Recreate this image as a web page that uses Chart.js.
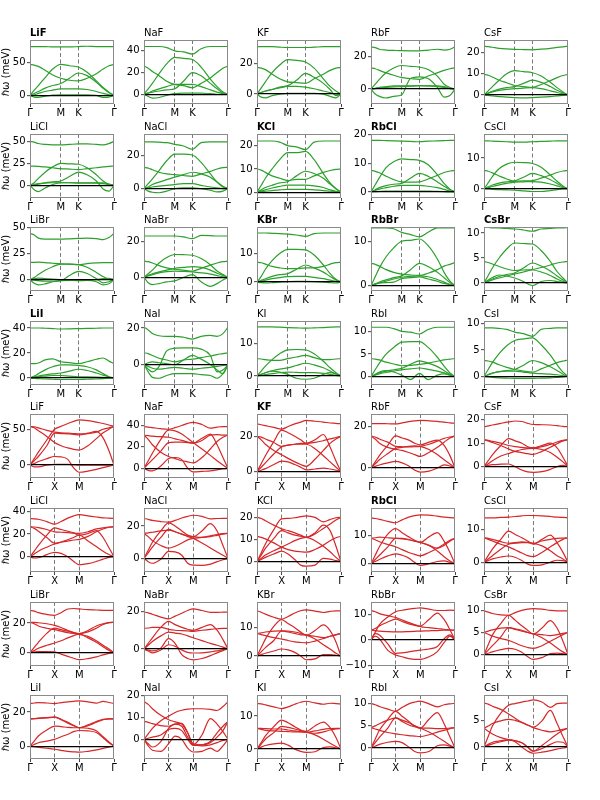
<!DOCTYPE html>
<html><head><meta charset="utf-8">
<script src="https://cdn.jsdelivr.net/npm/chart.js@4.4.0/dist/chart.umd.min.js"></script>
<style>
html,body{margin:0;padding:0;background:#fff;}
#wrap{position:relative;width:600px;height:800px;overflow:hidden;background:#fff;}
#wrap canvas{position:absolute;}
</style></head><body><div id="wrap"></div>
<script>
// k-path coordinates (fraction of total path length)
const hexPath = [0, 0.05, 0.1, 0.18, 0.27, 0.366, 0.47, 0.577, 0.68, 0.79, 0.87, 0.94, 1];
const cubPath = [0, 0.05, 0.1, 0.2, 0.293, 0.37, 0.45, 0.52, 0.586, 0.69, 0.79, 0.87, 0.94, 1];
const hexTickPos = [0, 0.366, 0.5774, 1];
const hexTickLabels = ['Γ', 'M', 'K', 'Γ'];
const cubTickPos = [0, 0.2929, 0.5858, 1];
const cubTickLabels = ['Γ', 'X', 'M', 'Γ'];
const cations = ['Li', 'Na', 'K', 'Rb', 'Cs'];
const anions = ['F', 'Cl', 'Br', 'I'];
const hexBold = ['LiF', 'KCl', 'RbCl', 'KBr', 'RbBr', 'CsBr', 'LiI'];
const cubBold = ['KF', 'RbCl'];

const hexYMin = [[-13,-9,-6.5,-9.2,-4.2],[-14.3,-5.7,-2.5,-2.1,-2.9],[-10.9,-7.6,-3.1,-1.2,-1.6],[-5.6,-11.2,-2.75,-1.9,-1.65]];
const hexYMax = [[84,50,35.4,30.2,25.9],[58.3,33.3,25,20.2,17.7],[50.7,28,19.3,13.2,11.2],[45.6,23.9,16.8,12.4,10.5]];
const hexYTicks = [
  [[0,50],[0,20,40],[0,20],[0,20],[0,10,20]],
  [[0,25,50],[0,20],[0,10,20],[0,10,20],[0,10]],
  [[0,25,50],[0,20],[0,10],[0,10],[0,5,10]],
  [[0,20,40],[0,20],[0,10],[0,5,10],[0,5,10]]];
const cubYMin = [[-18,-9.2,-3.6,-4.8,-4.9],[-13.3,-8.4,-4.6,-2.9,-3],[-9,-9,-3.5,-10.1,-2.6],[-7.5,-9,-3,-2.5,-2.3]];
const cubYMax = [[71.3,50.8,32.6,26.1,22.5],[42.9,31.2,24.2,19.7,16.6],[34.2,25,19.1,14.8,11.9],[30,20.3,16.4,12,9.95]];
const cubYTicks = [
  [[0,50],[0,20,40],[0,20],[0,20],[0,10,20]],
  [[0,20,40],[0,20],[0,10,20],[0,10],[0,10]],
  [[0,20],[0,20],[0,10],[-10,0,10],[0,5,10]],
  [[0,20],[0,10,20],[0,10],[0,5,10],[0,5]]];

// ---- hexagonal path Γ-M-K-Γ, branch energies (meV) ----
const hex_LiF = [
 [74,74,74,74,73.5,73.5,73.5,74,74.5,74,74,74,74],
 [47,46,44,38,31,26,23,22,26,33,40,45,47],
 [0,8,15,27,40,47,45,43,35,22,12,5,0],
 [0,3,6,11,15,18,26,34,30,20,11,4,0],
 [0,1,3,6,8,10,10,10,9,6,3,1,0],
 [0,-2.5,-3,-1,0.5,1,1,1,1,0,-3,-2.5,0]];
const hex_NaF = [
 [44,44,44,44,43,40,39,37,42,44,44,44,44],
 [0,5,10,19,28,34,33,32,25,14,7,2,0],
 [26,24,21,17,12,9,8,6,10,15,20,24,26],
 [0,1,2,3,4,5,12,20,17,10,5,1,0],
 [0,1,3,5,7,9,9,9,7,4,2,0.5,0],
 [0,-2,-3.5,-3,-1,0.5,1,1,1,0.5,0,0,0]];
const hex_KF = [
 [31,31,31,31,30.7,30.5,30.5,30.5,30.7,31,31,31,31],
 [0,4,8,14,19,22.5,22,21,17,10,5,2,0],
 [17.5,17,16,13,10,8,7.5,7,10,13,15.5,17,17.5],
 [0,1,2,3,4.5,5.5,9,13.5,11,7,3,-1,0],
 [0,1,2,3,4,5,5,4.5,3.5,2,1,0,0],
 [0,-2,-2.5,-1,0,0.5,0.5,0.5,0.5,0,-1.5,-2.5,0]];
const hex_RbF = [
 [26,25.5,24.5,24,23.8,23.6,23.5,23.5,24,24.5,24,24.5,26],
 [0,3,6,10,13,14.5,14,13.5,12,8,3,1,0],
 [13,12.5,11.5,10,8.5,7,6.5,6,8,10,11.5,12.5,13],
 [0,-3,-4.5,-5.5,-4.5,-3.5,6.5,7.5,6.5,1,-5,-4,0],
 [0,0.5,1,1.5,2,2,2,2,2,2,1.5,0.5,0],
 [0,0.3,0.6,1,1.3,1.5,1.8,2.2,2,1.5,1,0.3,0]];
const hex_CsF = [
 [23,22.8,22.5,22,21.7,21.5,21.4,21.3,21.6,22,22.4,22.7,23],
 [0,2,4,7,10,11.5,11,10.5,9,6,3.5,1.5,0],
 [9.7,9.3,8.5,7,5.8,4.5,4,3.6,5,6.8,8.2,9.2,9.7],
 [0,1,1.8,2.8,3.5,4,5.5,7,6,4,2.3,1,0],
 [0,0.8,1.5,2.2,2.7,3,3.3,3.5,3,2,1.2,0.5,0],
 [0,-0.2,-0.4,-0.7,-1,-1.2,-1.3,-1.2,-1,-0.7,-0.4,-0.2,0]];
const hex_LiCl = [
 [50,49,47.5,46.5,46,46,46.5,47,47,46.5,46,47.5,50],
 [22,21.8,21.5,21,20,19,18.5,18,19,20,21,21.5,22],
 [0,3,8,15,21,25,24.5,24,20,12,5,1,0],
 [0,0.5,1.5,3,4,5,10,15,12,5,-4,-6.5,0],
 [0,-5,-7,-3,1,3,3,3,3,2.5,2,1,0],
 [0,1,2,2.5,3,3,3,2.5,2.5,3,3,1.5,0]];
const hex_NaCl = [
 [28.5,28.5,28.5,28.3,28,27,26,24,28,28.5,28.5,28.5,28.5],
 [0,3,6,11,17,21,21,20.5,16,9,4,1,0],
 [13,12.5,11.5,10,9,8.5,8,7.5,9,10.5,12,12.8,13],
 [0,1,2.5,4,5.5,7,8.5,10,9,7,4,1.5,0],
 [0,0.5,1,1.5,2,2.5,3,3,2,1,0.5,0,0],
 [0,-1.5,-2.2,-2.5,-1.5,0,0.5,0.5,0,-1,-2,-1.5,0]];
const hex_KCl = [
 [22,22,22,22,21.5,20,19.5,18.3,21.5,22,22,22,22],
 [0,3,6,10,14,17,17,17.5,14,8,4,1.5,0],
 [10,9.5,8.5,7,6,5,5.5,5.5,7,8.5,9.3,9.8,10],
 [0,1,2,3,4,4.5,7,9,8,6,3.5,1.5,0],
 [0,0.5,1,1.8,2.5,3,3,3,2.7,2,1,0.4,0],
 [0,0.2,0.4,0.7,1,1.2,1.2,1.2,1,0.7,0.4,0.2,0]];
const hex_RbCl = [
 [18,18,18,17.9,17.8,17.7,17.6,17.5,17.7,17.8,17.9,18,18],
 [0,2.5,5,8.5,10.5,11.5,11.3,11,9.5,6,3,1,0],
 [7.5,7.2,6.7,5.5,4.3,3.5,3.4,3.5,4.5,5.8,6.8,7.3,7.5],
 [0,0.8,1.5,2.2,2.7,3,4.8,6.5,5.5,3.5,2,0.8,0],
 [0,0.5,1,1.5,2,2.3,2.3,2.3,2,1.5,0.9,0.3,0],
 [0,0.1,0.2,0.3,0.3,0.3,0.3,0.3,0.3,0.2,0.1,0,0]];
const hex_CsCl = [
 [15.5,15.5,15.4,15.3,15.2,15.1,15.1,15.2,15.3,15.4,15.5,15.5,15.5],
 [0,2,4,6.5,8,8.6,8.5,8.2,7,4.5,2.5,1,0],
 [6,5.7,5.2,4.2,3.2,2.5,2.6,2.7,3.5,4.5,5.3,5.8,6],
 [0,0.7,1.3,1.9,2.3,2.6,3.8,5,4.3,3,1.8,0.7,0],
 [0,0.4,0.8,1.3,1.8,2.2,2.3,2.4,2.2,1.6,1,0.4,0],
 [0,0,-0.1,-0.2,-0.3,-0.4,-0.6,-0.8,-0.8,-0.5,-0.2,0,0]];
const hex_LiBr = [
 [44.5,43,40,39,39,39,39.3,39.7,40,39.5,38.5,40.5,44.5],
 [16.5,16.7,16.8,16.5,15.8,15.2,15,14.5,15.5,16.2,16.5,16.5,16.5],
 [0,2,5,9,12.5,15,15,14.5,12,7,3,0.5,0],
 [0,-0.5,-1,-1.5,-1.5,-1,4,8,6,1,-3,-2,0],
 [0,-3.5,-5,-4,-2,-1,-0.8,-0.8,-0.8,-2,-5,-4,0],
 [0,1,1.5,1,0.5,0,-0.5,-1,-0.8,0,1,1.2,0]];
const hex_NaBr = [
 [23,23,23,23,23,23,22.5,21.5,23.3,23.2,23,23,23],
 [0,2,4,8,11,12.7,12.6,12.3,10.5,7,3.5,1.5,0],
 [9,8.7,8,6.5,5.3,4.5,4,3.5,5,6.8,8,8.7,9],
 [0,1,2,3,4,5,5.5,6,5.5,4,2.3,1,0],
 [0,0.8,1.5,2.5,3.2,3.5,3.3,3,2.5,1.8,1,0.3,0],
 [0,-3,-4,-3.5,-2.5,-2,0,1.5,-2.5,-5,-3.5,-1.5,0]];
const hex_KBr = [
 [17.2,17.2,17.2,17.1,17,16.8,16.5,16,17,17.2,17.2,17.2,17.2],
 [0,2,4.5,7.5,10,11.5,11.5,11.3,9.5,6,3,1,0],
 [7,6.8,6.3,5.5,5,4.7,4.7,5,5,5.5,6.3,6.8,7],
 [0,0.6,1.2,2,2.6,3,4.5,6,5,3.5,2,0.8,0],
 [0,0.3,0.7,1.2,1.6,1.9,2,2,1.7,1.2,0.7,0.3,0],
 [0,-0.2,-0.3,-0.2,0,0.2,0.3,0.3,0.2,0,-0.2,-0.3,0]];
const hex_RbBr = [
 [13,13,13,13,12.8,12,11.5,11,12,13,13,13,13],
 [0,2,4,6.5,8.5,10,10.2,10.5,9,6,3,1,0],
 [5,4.8,4.4,3.6,3,2.6,2.4,2.3,2.8,3.6,4.4,4.8,5.2],
 [0,0.4,0.8,1.3,1.8,2.2,3.6,5,4.3,3,1.8,0.7,0],
 [0,0.3,0.6,1,1.5,1.9,2.1,2.2,2,1.4,0.8,0.3,0],
 [0,0.4,0.6,0.7,0.8,1.6,1.8,2,1.5,1,0.5,0.2,0]];
const hex_CsBr = [
 [11.1,11.1,11,11,10.9,10.8,10.6,10.35,10.8,10.9,11,11,11.1],
 [0,1.5,3,5,6.8,8,7.9,7.8,6.5,4.3,2.3,1,0],
 [4.3,4.1,3.8,3.3,2.8,2.5,2.6,2.7,3.1,3.6,4,4.2,4.3],
 [0,0.4,0.8,1.3,1.7,2,3,4,3.4,2.4,1.4,0.6,0],
 [0,0.6,1.1,1.6,1.4,1,0.3,-0.5,0.3,0.5,0.3,0.1,0],
 [0,0.3,0.6,1,1.4,1.8,2.2,2.6,2.2,1.5,0.8,0.3,0]];
const hex_LiI = [
 [40,40,40,39.8,39.5,39.2,39.3,39.5,39.7,39.8,40,40,40],
 [11.5,11.5,12,14.5,15.3,13,12.3,11.5,13,15,16,13.5,11.5],
 [0,1.5,3.5,6.5,9,10.5,10.5,10,9,6.5,3.5,1,0],
 [0,0.7,1.5,2.5,3.3,4,5.5,7,6,4,2.3,0.8,0],
 [0,-0.3,-0.5,-0.8,-1,-1.2,-1.2,-1.2,-1,-0.8,-0.5,-0.2,0],
 [0,0.5,1,1.5,2,2,1.5,1,1,0.8,0.5,0.2,0]];
const hex_NaI = [
 [20.5,19,17,15.8,15.5,15.5,15,14,15.5,16,15.5,17,20.5],
 [6.5,6,5,3.5,2.5,1.5,2.5,3,3.8,4.7,5.5,6,6.5],
 [0,-2.5,-4,-1,7.5,9,9.2,9.2,8.5,5,-4,-3,0],
 [0,1,1.5,1,0.5,0,2.5,5,3,0,-3,-5,0],
 [0,-1,-2,-2.5,-2,-1.5,-2,-2.5,-2,-1.5,-1,-0.5,0],
 [0,-4,-7,-7.5,-6,-5,-5,-5,-5.5,-6,-7.5,-5,0]];
const hex_KI = [
 [15,15,15,15,14.9,14.8,14.7,14.6,14.7,14.8,14.9,15,15],
 [0,1.5,3,5,6.8,8,8.1,8,6.8,4.5,2.5,1,0],
 [5.3,5.2,5,4.8,4.8,5.3,5.8,6.3,5.6,5,5,5.2,5.3],
 [0,0.5,1,1.6,2.1,2.5,3.2,3.9,3.4,2.5,1.5,0.6,0],
 [0,0.5,1,1.5,1.2,0.5,-0.7,-1,-0.7,0.5,1,0.6,0],
 [0,0.2,0.4,0.7,1,1.2,1.1,1,1,0.8,0.5,0.2,0]];
const hex_RbI = [
 [11,11,11,11,10.7,10.1,9.9,9.5,10.5,11,11,11,11],
 [0,1.5,3,5,6.5,7.7,7.8,7.8,6.5,4.3,2.3,0.8,0],
 [4,3.9,3.7,3.2,2.8,2.4,2.5,2.7,3,3.4,3.7,3.9,4],
 [0,0.4,0.8,1.2,1.5,1.8,2.7,3.5,3,2.2,1.3,0.5,0],
 [0,0.5,1,1.3,1,0.3,-0.7,0.7,-0.7,0.3,0.6,0.3,0],
 [0,0.3,0.6,0.9,1.2,1.5,1.7,1.9,1.6,1.2,0.8,0.3,0]];
const hex_CsI = [
 [9.2,9.2,9.2,9.1,8.9,8.4,8.1,7.6,8.9,9.1,9.2,9.2,9.2],
 [0,1.3,2.6,4.3,5.8,6.8,7.1,7.3,6,4,2.2,0.8,0],
 [3,2.9,2.7,2.2,1.7,1.3,1,0.8,1.4,2.1,2.6,2.9,3.1],
 [0,0.3,0.6,0.9,1.1,1.3,2.1,3,2.6,1.8,1.1,0.4,0],
 [0,0.3,0.6,0.9,1,1,0.8,0.6,0.5,0.4,0.3,0.1,0],
 [0,-0.1,-0.2,-0.3,-0.35,-0.4,-0.4,-0.4,-0.35,-0.3,-0.2,-0.1,0]];

// ---- square path Γ-X-M-Γ, branch energies (meV) ----
const cub_LiF = [
 [0,9,18,35,50,54,58,61,63,62,60,58,56,54],
 [54,53.5,52,48.5,46,45,44.5,44,43.5,44,46,50,52,54],
 [54,52,48,40,31.5,27,24,22,21,27,37,45,50,54],
 [0,6,12,27,44.5,44,43.5,43,42,44.5,47,38,20,0],
 [0,2,5,9,12,11.5,8,-4,-10,-8.5,-6,-3.5,-1.5,0],
 [0,-2.5,-2.5,0,1,1,1,0.5,0,0,0,0,0,0]];
const cub_NaF = [
 [39,38.5,38,37,36.5,38,40,42,43,41,37.5,38.5,39,39],
 [31,30.5,30,29.5,29,27.5,26,24.5,23.5,26,31,31.5,31,31],
 [31,27,22,15,11,9,7,6,5,10,18,25,29,31],
 [0,7,14,27,36,35,32,28,24,18,12,7,3,0],
 [0,4,8,16,24,24.5,24.5,24,23.5,28,32,22,10,0],
 [0,-2,-2.5,2,9,10,8,0,-3.5,-3,-2.5,-1.5,-0.5,0]];
const cub_KF = [
 [27,26.5,26,25,24,25.5,27,28,29,28.5,28,27.5,27.3,27],
 [20,19.5,18.5,16.5,14.3,15,15.5,16,16,16.5,17.5,18.5,19.3,20],
 [20,18,15.5,12,9.6,7.5,5.5,4,3,7,12,16,18.5,20],
 [0,4.5,9,17,23.5,22,20,18,16,18,21,14,6,0],
 [0,2.5,5,10,14,15,15.5,15.5,15.5,13,9,5.5,2.5,0],
 [0,0.8,1.7,4,6,5.5,4,2.5,1,1.5,2,1.5,0.8,0]];
const cub_RbF = [
 [21.5,21.5,21.5,21.4,21.3,21.8,22.4,22.8,23,22.8,22.5,22.2,21.8,21.6],
 [15.5,15,14,12.5,10.5,10.3,10.2,10.3,10.5,11.5,13,14.3,15,15.5],
 [15.5,14,12,10,9.1,8.5,7.5,6.5,5.6,7.5,10,12.5,14.5,15.5],
 [0,3,6,11,15.5,14.5,13.5,12,11.2,12.5,13.5,11,6,0],
 [0,2,4,7,9.5,10,10.5,10.7,10.5,9,6.5,4,2,0],
 [0,0.8,1.5,2.5,3.2,2.5,1,-1,-2,-1.5,0,1.5,1,0]];
const cub_CsF = [
 [17,17.4,17.8,18.5,19.1,19.5,19.3,18.5,18,17.9,17.8,17.5,17.2,17],
 [11.5,11.2,10.8,10,9,8.5,8.2,8,8,8.5,9.5,10.5,11.2,11.5],
 [11.5,11,10.3,9,7.5,6.5,6,5.5,5.2,6.5,8.3,9.8,11,11.5],
 [0,2.5,5,9,12,11,10,8.5,8,9,10,8,4,0],
 [0,1.2,2.5,4.5,5.6,6.5,7.3,7.7,7.8,7.3,6,4,2,0],
 [0,0.5,0.8,1,1.1,0,-1.5,-2.3,-2.5,-2.2,-1.2,0,0.5,0]];
const cub_LiCl = [
 [33.6,33.4,33,31,28.7,31,34,36,37,36,35,34.3,34,33.6],
 [26.5,26.2,25.7,24,22,21.6,21.2,20.8,20.6,22,24.5,25.5,26.2,26.5],
 [26.5,25,22.5,17,12,12.8,13.8,14.8,15.4,18,22,24.5,26,26.5],
 [0,5,10,19,25.5,24,22.5,21,19,20.5,23,17,8,0],
 [0,2.5,5,8.5,11.3,13,15,17,19,14,9,5,2,0],
 [0,-1,-0.8,2,4,3,0,-4,-7,-6,-4,-2,-0.5,0]];
const cub_NaCl = [
 [24.7,24.2,23.5,22.8,22.4,23.5,25,26,26.7,26,24.5,24.7,24.8,24.7],
 [15.5,15.8,16.2,17,17.5,16.5,15,14,13.5,13,13.5,14.3,15,15.5],
 [15.5,13.5,11,8,6.3,7.5,9.5,11.5,12.4,13,14,14.8,15.3,15.5],
 [0,5,10,17,22,20,17,14.5,13.5,17,21.5,17,8,0],
 [0,3.5,7,13,18,16.5,15,13.5,12.4,9.5,6.5,4,2,0],
 [0,-2,-3,-0.5,4.3,4,2,-3,-4.2,-4.3,-3.5,-2,-0.8,0]];
const cub_KCl = [
 [20,19.5,18.5,16.5,14.8,14,13,12,11,12.5,15,17,18.8,20],
 [0,4,8,14.5,19.3,19.5,19.8,20.3,20.7,20,18,19,19.8,20],
 [11.5,11,10.3,8.5,6.6,5.5,4.8,4.5,4.3,5.5,7.5,9.5,10.8,11.5],
 [0,3,6,10.5,14,13,12,11.5,11,13,16.5,14,7,0],
 [0,1,2,3.5,4.8,3.5,1,-1.5,-2,-1.5,1.5,1.2,0.5,0],
 [0,1.5,3,5,6.6,8,9.5,10.5,11,9.5,7,4.5,2,0]];
const cub_RbCl = [
 [16.2,16,15.7,15,14.5,15.5,16.5,17,17.3,17.2,16.8,16.5,16.3,16.2],
 [9,9.2,9.4,9.2,9,8.8,8.5,8,7.6,6.5,5.5,6.5,8,9],
 [9,8.5,7.8,6.8,6,5,4,3.3,2.8,4,5.5,7,8.3,9],
 [0,3,6,10.5,12.4,11,9.5,8.3,7.6,9.5,11,8,4,0],
 [0,1.5,3,6,9,9,8.5,8,7.5,6.5,4.5,2.5,1,0],
 [0,0.8,1.5,2.8,3.5,3,2,0.5,-0.6,0,0.8,1,0.5,0]];
const cub_CsCl = [
 [13.6,13.6,13.6,13.7,13.8,14,14.2,14.3,14.3,14.2,14,13.8,13.7,13.6],
 [7.5,7.3,7,6.3,5.8,6,6.2,6.1,5.8,6.5,7,7.3,7.4,7.5],
 [7.5,7,6.5,5.5,4.7,3.8,2.8,2,1.7,3,4.7,6,7,7.5],
 [0,2,4,7,9.5,8.5,7.5,6.5,5.5,7,8.3,6,3,0],
 [0,1,2,4,5.5,5.8,6,6,5.8,5,3.5,2,1,0],
 [0,0.5,1,1.6,1.9,1.5,0.5,-0.6,-1,-0.8,0,0.6,0.5,0]];
const cub_LiBr = [
 [28.5,28,27,25.8,25.2,27,29.5,29.8,29.5,29,28.8,28.6,28.5,28.5],
 [20.5,20.4,20.2,19.5,18.4,17,15,13.5,12.8,14,16.5,19,20.3,20.5],
 [20.5,19.5,18,16.5,15.5,14.5,13.5,13,12.8,15,18,19.5,20.3,20.5],
 [0,3.5,7,13,16.5,15.5,14.5,13.5,12.4,11,8,5,2.5,0],
 [0,1.5,3,5,6.5,8,10,11.5,12.5,10,7,4,1.5,0],
 [0,0.5,0.8,0.8,0.5,-1,-2.5,-3.8,-4.7,-4,-2.8,-1.5,-0.5,0]];
const cub_NaBr = [
 [19.7,19.2,18.5,17,16,17.5,19,20.5,21.4,20.5,19.5,19.5,19.6,19.7],
 [11,11.2,11.5,11.5,10.5,10,9.8,9.6,9.4,10,10.5,10.8,11,11],
 [0,3,6,11.5,14.7,13,11.5,10.5,9.9,11.5,13,10,5,0],
 [0,2,4,7,9,8.5,8,7,6,4.5,3,2,1,0],
 [0,-1,-2,-0.5,2.3,1.5,-0.5,-1.8,-2.1,-2,-1.5,-1,-0.3,0],
 [0,-0.5,-1,0.5,5.5,3,-3,-5,-5.7,-5,-3.5,-2,-0.8,0]];
const cub_KBr = [
 [16,15.5,14.8,13.7,13,14,15.2,16,16.3,15.9,15.4,15.8,16,16],
 [8,8.2,8.5,8.8,8.9,8.8,8.5,8,7.4,7,6.5,7,7.5,8],
 [8,7.6,7.2,6.5,6,5.5,5,4.8,4.7,5.3,6.2,7,7.6,8],
 [0,3,6,10.5,12.9,11.5,10,8.5,7.4,9,11,9,5,0],
 [0,1.5,3,5.5,8.9,8.5,8,7.5,7.4,6,4,2.5,1,0],
 [0,0.5,1,1.8,2.5,2.2,1.3,0,-1.3,-1,0.5,0.5,0.3,0]];
const cub_RbBr = [
 [0,3,6,9,11,11.6,12,12.3,12.5,12,11.5,11.5,11.6,11.5],
 [11.5,11,10.3,9.5,8.8,7.8,6.8,6,5.4,8,10.5,8,4,0],
 [3.8,4.5,5.5,7,8.1,7.2,6.3,5.7,5.2,4.8,4.5,4.2,4,3.8],
 [3.8,3.7,3.5,3.3,3.2,3.2,3.3,3.4,3.5,3.6,3.7,3.8,3.8,3.8],
 [0,2.5,2,-1.5,-5.2,-5,-4.6,-4.2,-3.9,-3.5,-2.5,0.5,2,0],
 [0,1.5,0.5,-4,-5.8,-6.5,-7.2,-7.5,-7.5,-6.5,-4.5,-1,1.5,0]];
const cub_CsBr = [
 [9.9,9.6,9.3,9,8.9,9.5,10,10.3,10.4,10.3,10,9.9,9.9,9.9],
 [5,5.3,5.6,6,6.1,5.7,5.3,5,4.7,4.5,4.3,4.5,4.8,5],
 [5,4.6,4.2,3.6,3.2,2.6,2,1.6,1.4,2,3,3.8,4.5,5],
 [0,2.2,4.4,7,8.9,7.8,6.5,5.5,4.6,6,7.7,6,3,0],
 [0,1,2,4,6.1,5.8,5.5,5,4.7,3.8,2.6,1.5,0.6,0],
 [0,0.3,0.6,1.1,1.4,1.2,0.5,-0.5,-1.1,-0.7,0.2,0.3,0.2,0]];
const cub_LiI = [
 [25,25.3,25.5,25.3,25,25.5,26,26.3,26.5,26,25.2,26.3,25.6,25],
 [16,16.2,16.5,16.8,17,15.5,13.5,12,10.8,12,14,15.5,16,16],
 [16,16.1,16.3,16.6,17,15.8,14,12.2,10.8,12.5,14.5,15.7,16,16],
 [0,3,6,9.5,11.8,11.5,11,10.8,10.8,10.5,9,5.5,2.5,0],
 [0,1,2,3,4,5.5,7,8.5,9.2,9,8,5,2,0],
 [0,-0.3,-0.6,-1.2,-1.8,-2.4,-3,-3.3,-3.5,-3,-2.2,-1.3,-0.5,0]];
const cub_NaI = [
 [0,2.5,5,8.5,10.6,12.3,13.3,13.8,14,14,13.7,13.2,15,17.3],
 [17.3,16,14,11,9,8,7,3,-2,-2.5,-1.5,1,4,8.2],
 [8.2,7.8,7.2,6.3,6,7,7.3,3,-2.5,2,9.5,7,3.5,0],
 [0,-2,-3.5,-1,5,7,6,1,-2.5,-3,-2.5,-1.5,-0.5,0],
 [0,-3,-5,-5.5,-2,1.5,0,-4,-5.8,-5.5,-4,-5.5,-3,0],
 [0,0.5,1,2,4.5,5,4,0,-2.8,-2.5,-1,3,6,8.2]];
const cub_KI = [
 [13.8,13.7,13.4,12.8,12.3,12.8,13.6,14.2,14.5,14,13.6,13.9,13.8,13.7],
 [6.3,6.3,6.2,6.1,6.1,5.8,5.5,5.3,5.1,5.5,6,6.2,6.3,6.3],
 [6.3,6,5.7,5.5,5.4,5.3,5.2,5.2,5.1,4.8,5.2,5.8,6.1,6.3],
 [0,2,4,6.8,8.8,8,6.8,5.8,5.4,7,8.2,6.5,3.5,0],
 [0,1.5,3,5,6.9,6.6,6.1,5.6,5.2,4.3,3,1.8,0.8,0],
 [0,0.6,1.1,1.6,1.8,1.2,0,-0.7,-1,-0.8,0.5,0.7,0.4,0]];
const cub_RbI = [
 [10.1,9.8,9.4,8.8,8.3,9.2,10,10.4,10.6,10,9.3,9.8,10,10.1],
 [4.6,5,5.5,6.3,6.8,6,5.2,4.8,4.5,4.5,4.4,4.4,4.5,4.6],
 [4.6,4.3,4,3.5,3.2,3,2.8,2.7,2.6,3,3.6,4,4.4,4.6],
 [0,2,4,6.5,8.3,7.2,6,5,4.5,6.5,8,5.5,2.5,0],
 [0,1.2,2.4,4.5,6.8,6.3,5.7,5,4.5,3.6,2.5,1.5,0.6,0],
 [0,0.4,0.8,1.3,1.5,1.2,0.2,-0.8,-1.1,-0.8,0.5,0.7,0.4,0]];
const cub_CsI = [
 [0,2,4,6.5,8,8.3,8.6,8.8,9,8.6,7.6,8.3,8.4,8.4],
 [8.4,8.2,7.8,7.2,6.3,5.5,4.7,4.2,3.8,5,7,4.5,2,0],
 [3.6,4,4.5,5,5.3,5.1,4.7,4.2,3.7,3.2,2.9,3.1,3.4,3.6],
 [3.6,3,2.5,1.8,1.4,1.2,0.8,0,-0.8,0.3,1.5,2.5,3.2,3.6],
 [0,0.5,0.9,1.2,1.4,1,0,-0.8,-1.2,-1,-0.7,-0.4,-0.2,0],
 [0,0.3,0.6,1,1.3,1.2,0.8,0,-0.8,-0.3,0.5,1,0.9,0]];

const hexBands = [
  [hex_LiF, hex_NaF, hex_KF, hex_RbF, hex_CsF],
  [hex_LiCl, hex_NaCl, hex_KCl, hex_RbCl, hex_CsCl],
  [hex_LiBr, hex_NaBr, hex_KBr, hex_RbBr, hex_CsBr],
  [hex_LiI, hex_NaI, hex_KI, hex_RbI, hex_CsI]];
const cubBands = [
  [cub_LiF, cub_NaF, cub_KF, cub_RbF, cub_CsF],
  [cub_LiCl, cub_NaCl, cub_KCl, cub_RbCl, cub_CsCl],
  [cub_LiBr, cub_NaBr, cub_KBr, cub_RbBr, cub_CsBr],
  [cub_LiI, cub_NaI, cub_KI, cub_RbI, cub_CsI]];

// ---- layout / style ----
const FONT = 'DejaVu Sans';
const PADL = 30, PADT = 18, PADR = 8, PADB = 16, PW = 84, PH = 64;
const colLeft = [30, 144, 257, 371, 484];
const rowTop = [40, 134, 227, 321, 414, 508, 602, 695];
const GREEN = '#2ca02c', RED = '#d62728';
const wrap = document.getElementById('wrap');

const framePlugin = {
  id: 'frame',
  afterDraw(chart, args, opts) {
    const {ctx, chartArea: a} = chart;
    ctx.save();
    ctx.strokeStyle = '#8a8a8a';
    ctx.lineWidth = 1;
    ctx.strokeRect(Math.round(a.left) + 0.5, Math.round(a.top) + 0.5, Math.round(a.width) - 1, Math.round(a.height) - 1);
    ctx.fillStyle = '#000';
    ctx.font = (opts.bold ? 'bold ' : '') + '10px "' + FONT + '"';
    ctx.textAlign = 'left';
    ctx.textBaseline = 'alphabetic';
    ctx.fillText(opts.name, a.left, a.top - 4);
    ctx.restore();
  }
};

function fmt(v) { return String(v).replace('-', '\u2212'); }

function makePanel(row, col, name, bands, path, tickPos, tickLabels, ymin, ymax, yticks, color, bold) {
  const W = PADL + PW + PADR, H = PADT + PH + PADB;
  const cv = document.createElement('canvas');
  cv.width = W; cv.height = H;
  cv.style.left = (colLeft[col] - PADL) + 'px';
  cv.style.top = (rowTop[row] - PADT) + 'px';
  cv.style.width = W + 'px'; cv.style.height = H + 'px';
  wrap.appendChild(cv);
  const datasets = bands.map(b => ({
    data: path.map((x, i) => ({x: x, y: b[i]})),
    borderColor: color, borderWidth: 1.2, pointRadius: 0,
    cubicInterpolationMode: 'monotone', fill: false
  }));
  new Chart(cv, {
    type: 'line',
    data: {datasets},
    plugins: [framePlugin],
    options: {
      responsive: false, animation: false, events: [],
      layout: {padding: {left: 0, top: PADT, right: PADR, bottom: 0}},
      plugins: {legend: {display: false}, tooltip: {enabled: false}, frame: {name: name, bold: bold}},
      scales: {
        x: {
          type: 'linear', min: 0, max: 1,
          afterBuildTicks: s => { s.ticks = tickPos.map(v => ({value: v})); },
          afterFit: s => { s.height = PADB; },
          ticks: {autoSkip: false, maxRotation: 0, minRotation: 0, padding: 0, color: '#000',
                  font: {family: FONT, size: 10}, callback: (v, i) => tickLabels[i]},
          grid: {color: c => (c.index === 1 || c.index === 2) ? '#7a7a7a' : 'rgba(0,0,0,0)',
                 lineWidth: 1, drawTicks: true, tickLength: 3, tickColor: '#444', tickWidth: 1, z: 0},
          border: {display: false, dash: [4, 2.5]}
        },
        y: {
          type: 'linear', min: ymin, max: ymax,
          afterBuildTicks: s => { s.ticks = yticks.map(v => ({value: v})); },
          afterFit: s => { s.width = PADL; },
          ticks: {padding: 1.5, color: '#000', font: {family: FONT, size: 10}, callback: v => fmt(v)},
          grid: {color: c => (c.tick && c.tick.value === 0) ? '#000' : 'rgba(0,0,0,0)',
                 lineWidth: 1.3, drawTicks: true, tickLength: 3, tickColor: '#444', tickWidth: 1, z: 1},
          border: {display: false},
          title: {display: col === 0, text: 'ℏω (meV)', color: '#000', font: {family: FONT, size: 10}, padding: 0}
        }
      }
    }
  });
}

for (let r = 0; r < 4; r++) {
  for (let c = 0; c < 5; c++) {
    const name = cations[c] + anions[r];
    makePanel(r, c, name, hexBands[r][c], hexPath, hexTickPos, hexTickLabels,
      hexYMin[r][c], hexYMax[r][c], hexYTicks[r][c], GREEN, hexBold.includes(name));
    makePanel(r + 4, c, name, cubBands[r][c], cubPath, cubTickPos, cubTickLabels,
      cubYMin[r][c], cubYMax[r][c], cubYTicks[r][c], RED, cubBold.includes(name));
  }
}
</script>
</body></html>
